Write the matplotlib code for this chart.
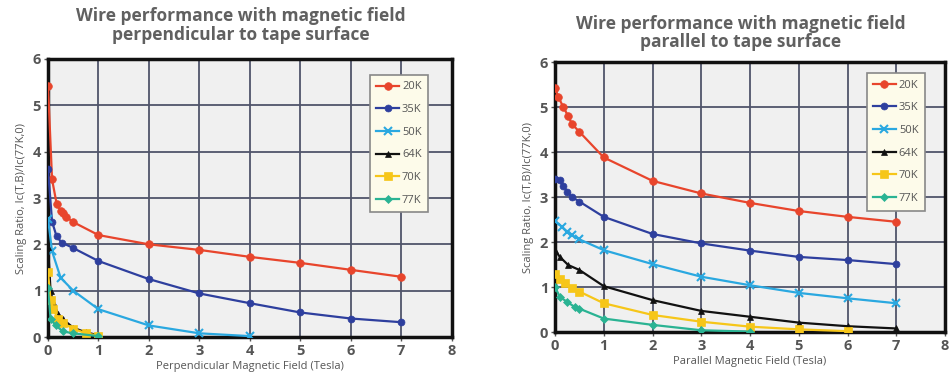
import matplotlib
matplotlib.use("Agg")
import matplotlib.pyplot as plt

# ---------------- data ----------------
labels = ["20K", "35K", "50K", "64K", "70K", "77K"]
colors = ["#e8452c", "#2e3f9e", "#2aa8e0", "#111111", "#f6c619", "#2ab393"]
markers = ["o", "o", "x", "^", "s", "D"]
msizes = [5.5, 5, 5.5, 4.5, 5.5, 4]

# Perpendicular field
perp_x_20 = [0, 0.08, 0.17, 0.25, 0.3, 0.35, 0.5, 1, 2, 3, 4, 5, 6, 7]
perp_y_20 = [5.42, 3.4, 2.88, 2.72, 2.68, 2.6, 2.48, 2.2, 2.0, 1.88, 1.73, 1.6, 1.45, 1.3]
perp_x_35 = [0, 0.08, 0.17, 0.27, 0.5, 1, 2, 3, 4, 5, 6, 7]
perp_y_35 = [3.62, 2.49, 2.17, 2.04, 1.92, 1.64, 1.25, 0.94, 0.73, 0.53, 0.40, 0.32]
perp_x_50 = [0, 0.08, 0.25, 0.5, 1, 2, 3, 4]
perp_y_50 = [2.55, 1.85, 1.28, 1.0, 0.6, 0.25, 0.08, 0.02]
perp_x_64 = [0, 0.05, 0.1, 0.2, 0.3, 0.5, 0.75, 1]
perp_y_64 = [1.95, 1.0, 0.75, 0.5, 0.38, 0.2, 0.1, 0.04]
perp_x_70 = [0, 0.05, 0.1, 0.2, 0.3, 0.5, 0.75, 1]
perp_y_70 = [1.4, 0.8, 0.6, 0.4, 0.3, 0.18, 0.08, 0.03]
perp_x_77 = [0, 0.05, 0.15, 0.3, 0.5, 1]
perp_y_77 = [1.05, 0.4, 0.25, 0.12, 0.08, 0.02]

# Parallel field
par_x_20 = [0, 0.07, 0.17, 0.27, 0.35, 0.5, 1, 2, 3, 4, 5, 6, 7]
par_y_20 = [5.42, 5.22, 5.0, 4.8, 4.62, 4.45, 3.88, 3.36, 3.08, 2.87, 2.69, 2.56, 2.45]
par_x_35 = [0, 0.1, 0.17, 0.25, 0.35, 0.5, 1, 2, 3, 4, 5, 6, 7]
par_y_35 = [3.4, 3.38, 3.25, 3.12, 3.0, 2.9, 2.56, 2.18, 1.97, 1.81, 1.67, 1.6, 1.51]
par_x_50 = [0, 0.14, 0.25, 0.35, 0.5, 1, 2, 3, 4, 5, 6, 7]
par_y_50 = [2.47, 2.34, 2.23, 2.15, 2.06, 1.82, 1.51, 1.23, 1.04, 0.87, 0.75, 0.64]
par_x_64 = [0, 0.1, 0.27, 0.5, 1, 2, 3, 4, 5, 6, 7]
par_y_64 = [1.82, 1.67, 1.49, 1.38, 1.02, 0.71, 0.47, 0.34, 0.21, 0.13, 0.08]
par_x_70 = [0, 0.1, 0.2, 0.35, 0.5, 1, 2, 3, 4, 5, 6]
par_y_70 = [1.3, 1.19, 1.08, 0.97, 0.9, 0.64, 0.38, 0.23, 0.12, 0.06, 0.02]
par_x_77 = [0, 0.1, 0.25, 0.4, 0.5, 1, 2, 3, 4]
par_y_77 = [1.0, 0.78, 0.67, 0.56, 0.52, 0.3, 0.16, 0.04, 0.01]

perp_series = [(perp_x_20, perp_y_20), (perp_x_35, perp_y_35), (perp_x_50, perp_y_50),
               (perp_x_64, perp_y_64), (perp_x_70, perp_y_70), (perp_x_77, perp_y_77)]
par_series = [(par_x_20, par_y_20), (par_x_35, par_y_35), (par_x_50, par_y_50),
              (par_x_64, par_y_64), (par_x_70, par_y_70), (par_x_77, par_y_77)]

x_ticks = [0, 1, 2, 3, 4, 5, 6, 7, 8]
y_ticks = [0, 1, 2, 3, 4, 5, 6]

titles = ["Wire performance with magnetic field\nperpendicular to tape surface",
          "Wire performance with magnetic field\nparallel to tape surface"]
xlabels = ["Perpendicular Magnetic Field (Tesla)", "Parallel Magnetic Field (Tesla)"]
ylabel = "Scaling Ratio, Ic(T,B)/Ic(77K,0)"

# ---------------- figure ----------------
plt.rcParams['font.family'] = ['Open Sans', 'DejaVu Sans']
fig = plt.figure(figsize=(9.51, 3.83), dpi=100)
text_gray = "#555555"

ax_rects = [[0.0505, 0.120, 0.4245, 0.726],
            [0.5836, 0.133, 0.4101, 0.705]]
title_y = [0.982, 0.962]
leg_anchor = [(0.797, 0.943), (0.799, 0.96)]

for i, (rect, series) in enumerate(zip(ax_rects, [perp_series, par_series])):
    ax = fig.add_axes(rect)
    ax.set_facecolor("#f0f0f0")
    for (xs, ys), lab, c, m, ms in zip(series, labels, colors, markers, msizes):
        ax.plot(xs, ys, color=c, marker=m, markersize=ms, lw=1.6, label=lab,
                markeredgewidth=1.5 if m == "x" else 0.5, markeredgecolor=c, zorder=3)
    ax.set_xlim(0, 8)
    ax.set_ylim(0, 6)
    ax.set_xticks(x_ticks)
    ax.set_yticks(y_ticks)
    ax.grid(True, color="#50546a", lw=1.3, zorder=0)
    ax.set_axisbelow(True)
    for sp in ax.spines.values():
        sp.set_linewidth(2.5)
        sp.set_color("#111111")
    ax.tick_params(axis="both", labelsize=10.5, labelcolor=text_gray, length=3,
                   width=1, color="#555555", pad=2)
    for lbl in ax.get_xticklabels() + ax.get_yticklabels():
        lbl.set_fontweight("bold")
    ax.set_xlabel(xlabels[i], fontsize=8, color=text_gray, labelpad=2)
    ax.set_ylabel(ylabel, fontsize=8, color=text_gray, labelpad=4)
    fig.text(rect[0] + rect[2] / 2 - 0.01, title_y[i], titles[i], ha="center", va="top",
             fontsize=12.5, fontweight="bold", color="#606060", linespacing=1.05)
    leg = ax.legend(loc="upper left", bbox_to_anchor=leg_anchor[i], fontsize=8,
                    frameon=True, fancybox=False, edgecolor="#888888",
                    facecolor="#fdfbea", framealpha=1, labelspacing=1.05,
                    handlelength=2.0, borderpad=0.6, handletextpad=0.3,
                    borderaxespad=0)
    for t in leg.get_texts():
        t.set_color(text_gray)
    leg.get_frame().set_linewidth(1.2)

fig.savefig("out.png", dpi=100)
